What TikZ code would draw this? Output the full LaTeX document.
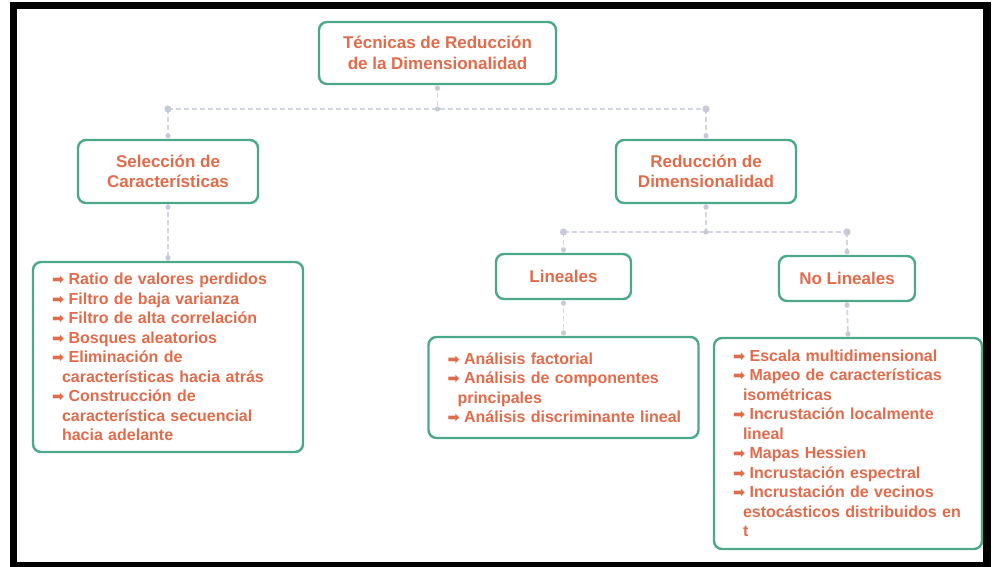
\documentclass[tikz,border=0pt]{standalone}
\usepackage{fontspec}
\setmainfont{Liberation Sans}
\newfontfamily\arrowfont{DejaVu Sans}
\definecolor{boxgreen}{HTML}{4DA88A}
\definecolor{txtorange}{HTML}{E06C4C}
\definecolor{linkgrey}{HTML}{D3D7E2}
\definecolor{dotgrey}{HTML}{C6CBD8}
% list bullet and wrapped-line indent
\newcommand\itemarrow{{\arrowfont\fontsize{14.5}{14.5}\selectfont ➡}\hspace{4.5pt}}
\newcommand\contindent{\hspace*{10pt}}
\begin{document}
\begin{tikzpicture}[x=1pt,y=-1pt,
  headbox/.style={draw=boxgreen, line width=2.4pt, rounded corners=8pt, fill=white,
    text=txtorange, font=\bfseries\fontsize{17}{20.5}\selectfont, align=center, inner sep=0pt},
  listbox/.style={draw=boxgreen, line width=2.4pt, rounded corners=8pt, fill=white,
    text=txtorange, font=\bfseries\fontsize{16}{19.5}\selectfont, align=left,
    inner xsep=0pt, inner ysep=0pt, text width=270pt,
    execute at begin node={\leftskip=19pt\relax\hyphenpenalty=10000\relax}},
  link/.style={draw=linkgrey, line width=1.8pt, dash pattern=on 5pt off 3pt},
  bigdot/.style={fill=dotgrey},
]
\useasboundingbox (0,0) rectangle (994,567);
% page frame
\fill[white] (0,0) rectangle (994,567);
\fill[black] (10,2) rectangle (991,567);
\fill[white] (17,9) rectangle (983,562);

% nodes
\node[headbox, minimum width=237pt, minimum height=62pt] (root) at (437.5,53)
  {Técnicas de Reducción\\de la Dimensionalidad};
\node[headbox, minimum width=180pt, minimum height=63pt] (sel) at (168,171.5)
  {Selección de\\Características};
\node[headbox, minimum width=180pt, minimum height=63pt] (red) at (706,171.5)
  {Reducción de\\Dimensionalidad};
\node[headbox, minimum width=135pt, minimum height=45pt] (lin) at (563.5,276.5) {Lineales};
\node[headbox, minimum width=136pt, minimum height=45pt] (nolin) at (847,278.5) {No Lineales};

\node[listbox, minimum height=190pt] (sellist) at (168,357) {%
  \itemarrow Ratio de valores perdidos\\
  \itemarrow Filtro de baja varianza\\
  \itemarrow Filtro de alta correlación\\
  \itemarrow Bosques aleatorios\\
  \itemarrow Eliminación de\\
  \contindent características hacia atrás\\
  \itemarrow Construcción de\\
  \contindent característica secuencial\\
  \contindent hacia adelante};
\node[listbox, minimum height=101pt] (linlist) at (563.5,387.5) {%
  \itemarrow Análisis factorial\\
  \itemarrow Análisis de componentes\\
  \contindent principales\\
  \itemarrow Análisis discriminante lineal};
\node[listbox, text width=268pt, minimum height=211pt] (nolinlist) at (848,443.5) {%
  \itemarrow Escala multidimensional\\
  \itemarrow Mapeo de características\\
  \contindent isométricas\\
  \itemarrow Incrustación localmente\\
  \contindent lineal\\
  \itemarrow Mapas Hessien\\
  \itemarrow Incrustación espectral\\
  \itemarrow Incrustación de vecinos\\
  \contindent estocásticos distribuidos en\\
  \contindent t};

% branch points
\coordinate (j0) at (437.5,109);
\coordinate (c1) at (168,109);
\coordinate (c2) at (706,109);
\coordinate (j1) at (706,232);
\coordinate (c3) at (563.5,232);
\coordinate (c4) at (847,232);

% connectors
\draw[link] (root.south) -- (j0);
\draw[link] (c1) -- (c2);
\draw[link] (c1) -- (sel.north);
\draw[link] (c2) -- (red.north);
\draw[link] (red.south) -- (j1);
\draw[link] (c3) -- (c4);
\draw[link] (c3) -- (lin.north);
\draw[link] (c4) -- (nolin.north);
\draw[link] (sel.south) -- (sellist.north);
\draw[link] (lin.south) -- (linlist.north);
\draw[link] (nolin.south) -- (nolinlist.north);

% connector dots
\foreach \c in {c1,c2,c3,c4} \fill[bigdot] (\c) circle (3.6);
\foreach \c in {j0,j1} \fill[bigdot] (\c) circle (2.6);
\foreach \n in {root,sel,red,lin,nolin}
  \fill[bigdot] ([yshift=-3pt]\n.south) circle (2.6);
\foreach \n in {sel,red,lin,nolin,sellist,linlist,nolinlist}
  \fill[bigdot] ([yshift=3pt]\n.north) circle (2.6);
\end{tikzpicture}
\end{document}
